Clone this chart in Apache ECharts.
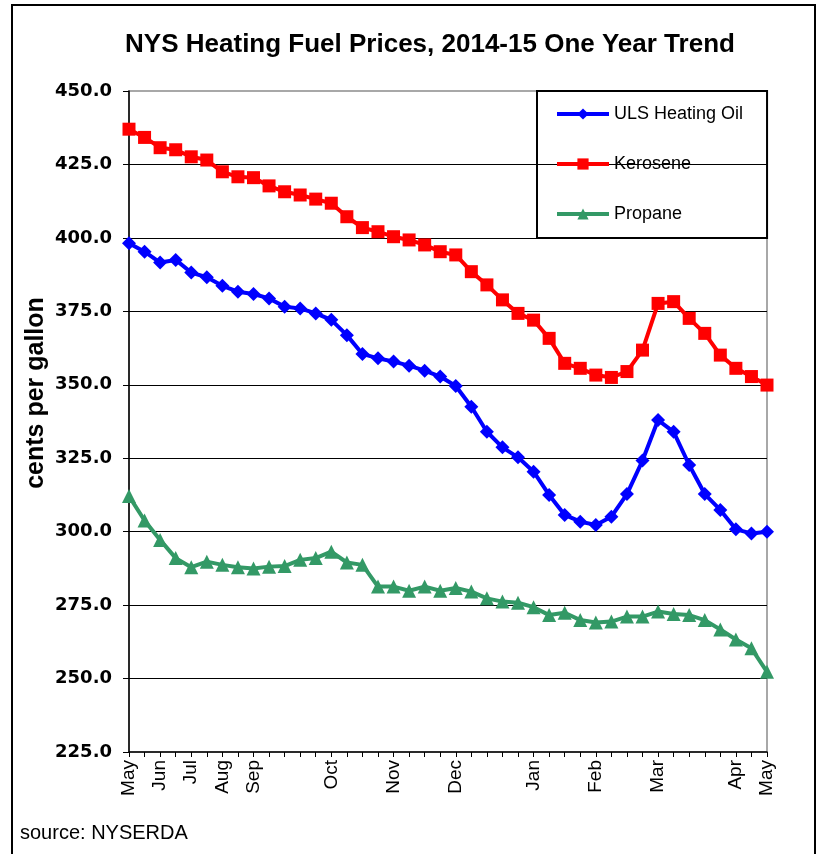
<!DOCTYPE html>
<html lang="en">
<head>
    <meta charset="utf-8"/>
    <title>NYS Heating Fuel Prices</title>
    <script src="https://cdn.jsdelivr.net/npm/echarts@6/dist/echarts.min.js"></script>
    <style>
        html, body { margin: 0; background: #FFFFFF; }
        #chart { width: 820px; height: 854px; }
    </style>
</head>
<body>
<div id="chart"></div>
<script>
    // weekly points, month name on the first report of each month
    var weekLabels = ['May', '', 'Jun', '', 'Jul', '', 'Aug', '', 'Sep', '', '', '', '', 'Oct', '', '', '', 'Nov',
        '', '', '', 'Dec', '', '', '', '', 'Jan', '', '', '', 'Feb', '', '', '', 'Mar', '', '', '', '', 'Apr', '', 'May']

    var ulsHeatingOil = [398.2, 395.3, 391.6, 392.5, 388.2, 386.6, 383.7, 381.7, 380.9, 379.4, 376.6, 376.0, 374.3,
        372.1, 366.9, 360.5, 359.0, 357.9, 356.5, 354.8, 352.8, 349.6, 342.5, 334.0, 328.7, 325.3, 320.4, 312.5,
        305.7, 303.4, 302.3, 305.1, 312.8, 324.2, 338.0, 334.0, 322.7, 312.8, 307.4, 300.8, 299.4, 300.0]

    var kerosene = [437.0, 434.2, 430.7, 430.0, 427.6, 426.5, 422.5, 420.8, 420.5, 417.7, 415.7, 414.6, 413.2,
        411.8, 407.2, 403.5, 402.1, 400.4, 399.3, 397.6, 395.3, 394.2, 388.5, 384.0, 378.9, 374.3, 372.0, 365.8,
        357.3, 355.6, 353.3, 352.5, 354.5, 361.8, 377.7, 378.3, 372.6, 367.5, 360.1, 355.6, 352.8, 349.9]

    var propane = [312.1, 303.8, 297.2, 291.0, 287.9, 289.8, 288.7, 287.9, 287.5, 288.1, 288.3, 290.4, 291.0,
        293.2, 289.5, 288.7, 281.3, 281.3, 279.9, 281.3, 279.9, 280.8, 279.6, 277.3, 276.2, 275.8, 274.3, 271.6,
        272.4, 269.9, 269.1, 269.4, 271.1, 271.1, 272.8, 272.0, 271.6, 269.9, 266.7, 263.3, 260.3, 252.3]

    var chart = echarts.init(document.getElementById('chart'), null, {renderer: 'canvas'})

    var font = '"Liberation Sans", Arial, sans-serif'

    chart.setOption({
        animation: false,
        backgroundColor: '#FFFFFF',
        title: {
            text: 'NYS Heating Fuel Prices, 2014-15 One Year Trend',
            left: 425,
            top: 27,
            textAlign: 'center',
            textStyle: {fontFamily: font, fontSize: 26, fontWeight: 'bold', color: '#000'}
        },
        legend: {
            orient: 'vertical',
            left: 537,
            top: 91,
            padding: [14, 24, 15, 18],
            borderColor: '#000',
            borderWidth: 2,
            itemWidth: 52,
            itemHeight: 14,
            itemGap: 32,
            lineStyle: {width: 4},
            textStyle: {fontFamily: font, fontSize: 18, color: '#000'}
        },
        grid: {
            left: 129, right: 53, top: 91, bottom: 102,
            show: true, borderColor: '#8C8C8C', borderWidth: 1.5
        },
        xAxis: {
            type: 'category',
            data: weekLabels,
            boundaryGap: false,
            axisLine: {lineStyle: {color: '#000', width: 1.5}},
            axisTick: {interval: 0, length: 5, lineStyle: {color: '#000'}},
            axisLabel: {
                interval: 0, rotate: 90, margin: 8,
                fontFamily: font, fontSize: 19, color: '#000'
            },
            splitLine: {show: false}
        },
        yAxis: {
            type: 'value',
            min: 225, max: 450, interval: 25,
            axisLine: {show: true, lineStyle: {color: '#000', width: 1.5}},
            axisTick: {show: true, length: 6, lineStyle: {color: '#000'}},
            axisLabel: {
                margin: 17,
                fontFamily: '"DejaVu Sans", sans-serif', fontSize: 18, fontWeight: 'bold', color: '#000',
                formatter: function (v) { return v.toFixed(1) }
            },
            splitLine: {show: true, showMinLine: false, showMaxLine: false, lineStyle: {color: '#000', width: 1}}
        },
        series: [{
            name: 'ULS Heating Oil',
            type: 'line',
            data: ulsHeatingOil,
            symbol: 'diamond',
            symbolSize: 14,
            color: '#0000FF',
            lineStyle: {width: 4}
        }, {
            name: 'Kerosene',
            type: 'line',
            data: kerosene,
            symbol: 'rect',
            symbolSize: 13,
            color: '#FF0000',
            lineStyle: {width: 4}
        }, {
            name: 'Propane',
            type: 'line',
            data: propane,
            symbol: 'triangle',
            symbolSize: 14,
            color: '#339966',
            lineStyle: {width: 4}
        }],
        graphic: [{
            type: 'rect',
            shape: {x: 12, y: 5, width: 803, height: 900},
            style: {fill: 'none', stroke: '#000', lineWidth: 2},
            silent: true
        }, {
            type: 'text',
            x: 36, y: 393,
            rotation: Math.PI / 2,
            style: {
                text: 'cents per gallon',
                font: 'bold 25px ' + font,
                fill: '#000',
                textAlign: 'center',
                textVerticalAlign: 'middle'
            }
        }, {
            type: 'text',
            x: 20, y: 823,
            style: {text: 'source: NYSERDA', font: '20px ' + font, fill: '#000'}
        }]
    })
</script>
</body>
</html>
